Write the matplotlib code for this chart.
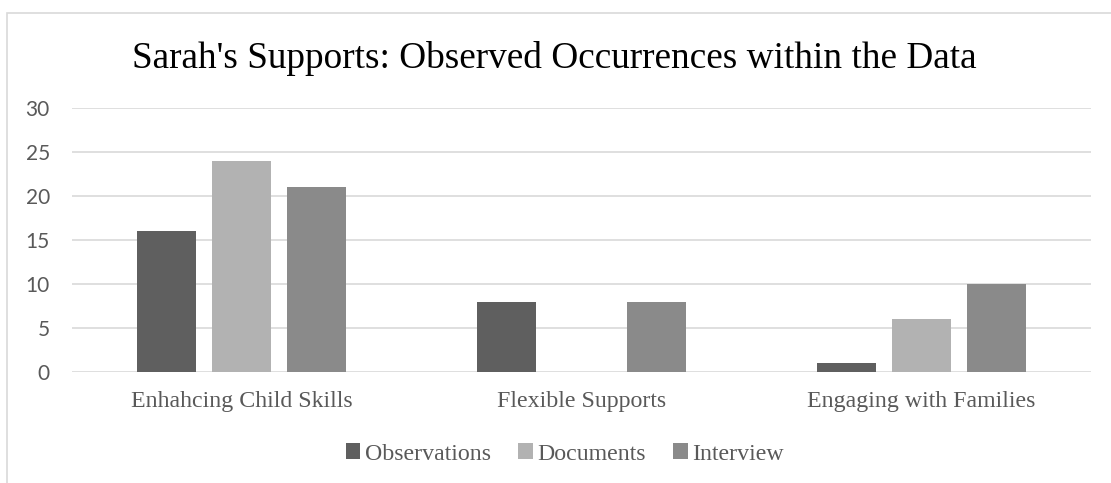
import numpy as np
import matplotlib.pyplot as plt
from matplotlib.patches import Rectangle

# données
categories = ["Enhahcing Child Skills", "Flexible Supports", "Engaging with Families"]
series_names = ["Observations", "Documents", "Interview"]
observations = [16, 8, 1]
documents = [24, 0, 6]
interview = [21, 8, 10]
y_ticks = [0, 5, 10, 15, 20, 25, 30]

colors = ["#5f5f5f", "#b2b2b2", "#8a8a8a"]
W, H = 1111, 483

fig = plt.figure(figsize=(W / 100, H / 100), dpi=100)
ax = fig.add_axes([72 / W, 1 - 372 / H, (1091 - 72) / W, (372 - 108) / H])

# cadre du graphique (bord gris clair en haut et à gauche)
fig.patches.append(Rectangle((7 / W, -0.1), 1.2, 1 - 13 / H + 0.1,
                             transform=fig.transFigure, fill=False,
                             edgecolor="#d9d9d9", linewidth=1.2))

x = np.arange(len(categories))
bar_w = 59 / 340
step = 75 / 340
for i, (vals, name) in enumerate(zip([observations, documents, interview], series_names)):
    ax.bar(x + (i - 1) * step, vals, width=bar_w, color=colors[i], label=name, zorder=3)

ax.set_xlim(-0.5, 2.5)
ax.set_ylim(0, 30)
ax.set_yticks(y_ticks)
ax.set_yticklabels([str(t) for t in y_ticks], family="Lato", fontsize=15, color="#595959")
ax.set_xticks(x)
ax.set_xticklabels(categories, family="Liberation Serif", fontsize=17.2, color="#595959")
ax.tick_params(axis="both", length=0)
ax.tick_params(axis="y", pad=16)
ax.tick_params(axis="x", pad=14)
ax.grid(axis="y", color="#d9d9d9", linewidth=1.2, zorder=0)
for s in ax.spines.values():
    s.set_visible(False)

fig.text(554 / W, 1 - 68 / H, "Sarah's Supports: Observed Occurrences within the Data",
         ha="center", va="baseline", family="Liberation Serif", fontsize=26.8, color="black")

leg = fig.legend(loc="center", bbox_to_anchor=(565 / W, 1 - 454 / H), ncol=3,
                 frameon=False, prop={"family": "Liberation Serif", "size": 17.2},
                 handlelength=0.6, handleheight=0.6, handletextpad=0.2, columnspacing=1.15)
for t in leg.get_texts():
    t.set_color("#595959")

fig.savefig("out.png", dpi=100)
